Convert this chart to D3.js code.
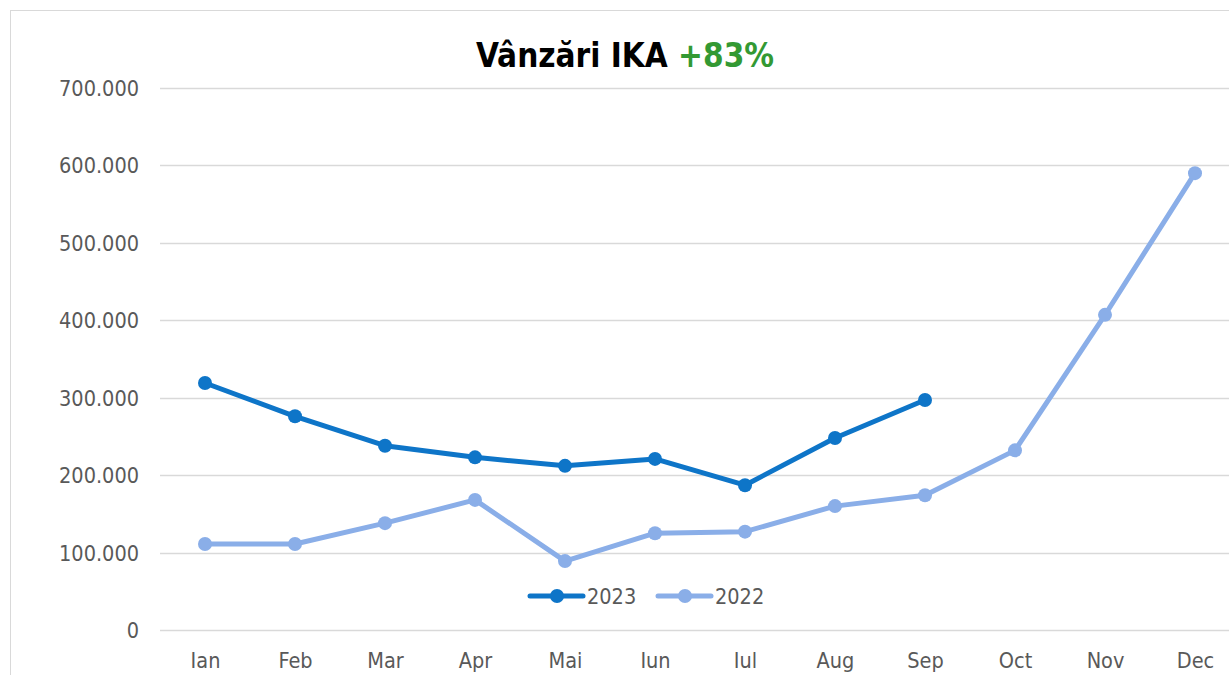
<!DOCTYPE html>
<html><head><meta charset="utf-8">
<script src="https://cdn.jsdelivr.net/npm/d3@7"></script>
<style>body{margin:0;background:#fff;overflow:hidden}svg{display:block}</style>
</head><body>
<svg id="c" width="1229" height="675"></svg>
<script>
const months = ["Ian","Feb","Mar","Apr","Mai","Iun","Iul","Aug","Sep","Oct","Nov","Dec"];
const sales2023 = [319000,276000,238000,223000,212000,221000,187000,248000,297000];
const sales2022 = [111000,111000,138000,168000,89000,125000,127000,160000,174000,232000,407000,590000];
const yTicks = [0,100000,200000,300000,400000,500000,600000,700000];
const seriesNames = ["2023","2022"];
const colors = ["#0e75c8","#8aaee8"];

const font = "'DejaVu Sans Condensed', 'DejaVu Sans', sans-serif";
const svg = d3.select("#c");
const W = 1229, H = 675;
svg.append("rect").attr("x",10.5).attr("y",10.5).attr("width",W).attr("height",H)
  .attr("fill","#fff").attr("stroke","#d9d9d9").attr("stroke-width",1);

const x = d3.scalePoint().domain(months).range([205,1195]);
const y = d3.scaleLinear().domain([0,700000]).range([630,88]);
const fmt = v => v===0 ? "0" : d3.format(",")(v).replace(/,/g,".");

const grid = svg.append("g");
grid.selectAll("line").data(yTicks).join("line")
  .attr("x1",160).attr("x2",W).attr("y1",d=>Math.round(y(d))+0.5).attr("y2",d=>Math.round(y(d))+0.5)
  .attr("stroke","#d9d9d9").attr("stroke-width",1.5);

const yAxis = d3.axisLeft(y).tickValues(yTicks).tickFormat(fmt).tickSize(0).tickPadding(0);
const ya = svg.append("g").attr("transform","translate(139,0)").call(yAxis);
ya.select(".domain").remove();
ya.selectAll("text").attr("font-family",font).attr("font-size",21.5).attr("fill","#595959").attr("dy","0.35em");

const xAxis = d3.axisBottom(x).tickSize(0).tickPadding(0);
const xa = svg.append("g").attr("transform","translate(0,653)").call(xAxis);
xa.select(".domain").remove();
xa.selectAll("text").attr("font-family",font).attr("font-size",21.5).attr("fill","#595959").attr("dy","0.71em");

const line = d3.line().x((d,i)=>x(months[i])).y(d=>y(d));
const data = [sales2023, sales2022];
data.slice().reverse().forEach((s,ri)=>{
  const k = data.length-1-ri;
  svg.append("path").datum(s).attr("d",line).attr("fill","none")
    .attr("stroke",colors[k]).attr("stroke-width",5).attr("stroke-linejoin","round").attr("stroke-linecap","round");
  svg.append("g").selectAll("circle").data(s).join("circle")
    .attr("cx",(d,i)=>x(months[i])).attr("cy",d=>y(d)).attr("r",7).attr("fill",colors[k]);
});

const leg = svg.append("g").attr("font-family",font).attr("font-size",21.5).attr("fill","#595959");
const legX = [530, 658];
seriesNames.forEach((n,k)=>{
  const g = leg.append("g").attr("transform",`translate(${legX[k]},596)`);
  g.append("line").attr("x1",0).attr("x2",53).attr("stroke",colors[k]).attr("stroke-width",5).attr("stroke-linecap","round");
  g.append("circle").attr("cx",27).attr("r",7).attr("fill",colors[k]);
  g.append("text").attr("x",57).attr("dy","0.35em").text(n);
});

const t = svg.append("text").attr("x",625).attr("y",67).attr("text-anchor","middle")
  .attr("font-family",font).attr("font-size",33).attr("font-weight","bold");
t.append("tspan").attr("fill","#000").text("Vânzări IKA ");
t.append("tspan").attr("fill","#339933").text("+83%");
</script>
</body></html>
